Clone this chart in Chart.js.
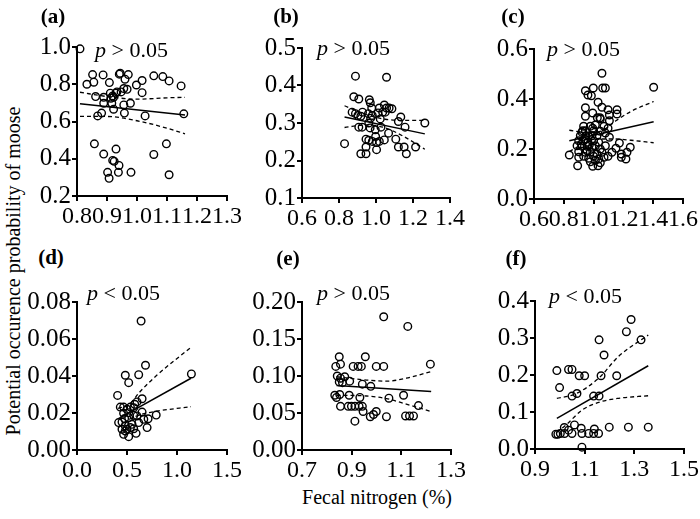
<!DOCTYPE html>
<html>
<head>
<meta charset="utf-8">
<script src="https://cdn.jsdelivr.net/npm/chart.js@4.4.0/dist/chart.umd.min.js"></script>
<style>
  body { margin: 0; width: 700px; height: 519px; background: #fff; position: relative; overflow: hidden;
         font-family: 'Liberation Serif', 'Times New Roman', serif; color: #000; }
  canvas { position: absolute; }
  .tag { position: absolute; transform: translate(-50%, -50%); font-weight: bold; font-size: 21px; }
  .pv  { position: absolute; transform: translateY(-50%); font-size: 22px; white-space: nowrap; }
  .ytitle { position: absolute; left: 13px; top: 271px; transform: translate(-50%, -50%) rotate(-90deg);
            font-size: 20px; white-space: nowrap; }
  .xtitle { position: absolute; left: 377px; top: 497px; transform: translate(-50%, -50%);
            font-size: 20px; white-space: nowrap; }
</style>
</head>
<body>
<div class="ytitle">Potential occurence probability of moose</div>
<div class="xtitle">Fecal nitrogen (%)</div>
<script>
// panel (a)
const aX = [0.81,0.833,0.852,0.856,0.862,0.887,0.889,0.889,0.869,0.882,0.908,0.911,0.913,0.916,0.922,0.922,0.919,0.93,0.933,0.941,0.944,0.947,0.956,0.96,0.967,0.956,0.958,0.971,0.978,0.998,1.017,1.017,1.027,1.056,1.086,1.107,1.147,1.156,0.858,0.889,0.93,0.919,0.924,0.94,0.902,0.907,0.938,0.98,1.056,1.098,1.107];
const aY = [0.99,0.80,0.852,0.811,0.734,0.85,0.73,0.698,0.63,0.645,0.809,0.752,0.725,0.698,0.73,0.666,0.737,0.752,0.759,0.854,0.859,0.759,0.777,0.827,0.773,0.689,0.645,0.852,0.698,0.796,0.82,0.755,0.63,0.845,0.841,0.818,0.791,0.641,0.48,0.425,0.452,0.391,0.386,0.364,0.327,0.295,0.327,0.327,0.423,0.48,0.314];
const aFitX = [0.81, 1.16], aFitY = [0.695, 0.635];
const aBandX = [0.81, 0.9, 1.0, 1.1, 1.16];
const aUpper = [0.757, 0.734, 0.72, 0.727, 0.73];
const aLower = [0.627, 0.627, 0.604, 0.564, 0.534];

// panel (b)
const bX = [0.889,1.057,0.88,0.907,0.964,0.969,0.977,1.018,1.045,1.057,1.071,1.086,0.871,0.889,0.902,0.918,0.927,0.959,0.971,0.98,1.011,1.023,1.036,1.05,1.134,1.121,1.264,1.157,0.907,0.925,0.961,0.968,0.996,1.027,0.998,1.068,0.946,0.961,0.98,1.003,1.018,1.045,1.107,0.83,0.946,1.003,1.121,1.152,1.214,0.918,0.946,1.164];
const bY = [0.425,0.422,0.37,0.364,0.362,0.354,0.34,0.34,0.348,0.34,0.34,0.338,0.329,0.325,0.32,0.318,0.329,0.325,0.313,0.32,0.327,0.311,0.329,0.329,0.316,0.304,0.3,0.289,0.289,0.289,0.3,0.287,0.282,0.289,0.264,0.273,0.257,0.254,0.251,0.248,0.251,0.255,0.257,0.245,0.236,0.229,0.236,0.236,0.236,0.218,0.218,0.218];
const bFitX = [0.83, 1.264], bFitY = [0.316, 0.271];
const bBandX = [0.83, 0.95, 1.05, 1.15, 1.264];
const bUpper = [0.346, 0.322, 0.31, 0.307, 0.307];
const bLower = [0.288, 0.295, 0.287, 0.264, 0.23];

// panel (c)
const cX = [1.056,0.945,0.998,1.061,1.079,0.962,0.985,1.403,1.03,0.945,1.056,1.097,1.157,0.994,0.945,1.025,1.043,1.106,1.157,1.106,1.012,1.07,0.994,1.097,0.927,0.945,1.045,1.079,0.911,0.949,0.989,1.023,1.106,0.9,0.933,0.962,1.0,1.034,1.173,0.889,0.922,0.956,0.989,0.9,0.956,0.978,1.056,1.123,1.15,1.186,1.224,1.246,0.837,0.9,0.933,0.967,1.0,1.034,1.07,1.097,1.186,1.217,0.978,1.012,1.045,0.893,0.994,1.03,0.922,0.94,0.967,1.012,0.971,0.918,0.945,1.045,1.023,1.045,0.978,0.933,1.079,1.0];
const cY = [0.503,0.433,0.444,0.444,0.444,0.416,0.413,0.447,0.387,0.365,0.367,0.357,0.357,0.344,0.331,0.325,0.325,0.336,0.34,0.313,0.296,0.291,0.283,0.283,0.273,0.273,0.271,0.264,0.253,0.253,0.253,0.253,0.247,0.233,0.233,0.227,0.233,0.227,0.224,0.213,0.211,0.211,0.207,0.189,0.193,0.187,0.187,0.187,0.203,0.18,0.187,0.207,0.176,0.167,0.171,0.163,0.171,0.16,0.167,0.171,0.167,0.16,0.149,0.155,0.145,0.133,0.131,0.133,0.267,0.24,0.251,0.213,0.216,0.22,0.187,0.2,0.18,0.32,0.291,0.291,0.213,0.273];
const cFitX = [0.837, 1.403], cFitY = [0.233, 0.309];
const cBandX = [0.837, 0.95, 1.05, 1.15, 1.25, 1.403];
const cUpper = [0.275, 0.266, 0.272, 0.313, 0.35, 0.39];
const cLower = [0.19, 0.225, 0.24, 0.24, 0.235, 0.225];

// panel (d)
const dX = [0.641,0.685,0.483,0.617,0.517,1.144,0.406,0.651,0.6,0.577,0.433,0.466,0.534,0.567,0.5,0.792,0.651,0.466,0.416,0.45,0.517,0.567,0.617,0.668,0.711,0.701,0.483,0.534,0.5,0.567,0.45,0.591,0.466,0.517,0.55,0.6,0.476,0.517,0.483];
const dY = [0.0697,0.0458,0.0404,0.0407,0.0364,0.0411,0.0295,0.0277,0.026,0.0247,0.0232,0.0232,0.0232,0.0229,0.022,0.0189,0.0205,0.0198,0.0148,0.0151,0.0175,0.0187,0.0148,0.0166,0.0169,0.0121,0.013,0.0121,0.0112,0.0115,0.0112,0.009,0.0085,0.0072,0.0139,0.0184,0.017,0.0202,0.0103];
const dFitX = [0.41, 1.14], dFitY = [0.0168, 0.0388];
const dBandX = [0.41, 0.52, 0.63, 0.8, 1.14];
const dUpper = [0.0225, 0.0245, 0.0315, 0.0405, 0.0555];
const dLower = [0.012, 0.0165, 0.019, 0.021, 0.0234];

// panel (e)
const eX = [1.029,1.126,0.85,0.955,0.836,0.855,0.906,0.926,0.939,0.999,1.029,1.217,0.842,0.85,0.863,0.872,0.892,0.855,0.943,0.977,0.832,0.852,0.89,0.933,0.839,1.05,1.109,0.855,0.886,0.899,0.913,0.93,0.943,0.946,0.999,0.988,0.975,1.04,1.117,1.133,1.149,1.169,0.913];
const eY = [0.18,0.167,0.126,0.126,0.113,0.116,0.113,0.113,0.113,0.113,0.113,0.116,0.1,0.092,0.091,0.099,0.093,0.097,0.089,0.086,0.074,0.075,0.074,0.071,0.071,0.07,0.074,0.059,0.059,0.059,0.059,0.059,0.059,0.052,0.052,0.048,0.045,0.045,0.046,0.046,0.046,0.06,0.039];
const eFitX = [0.839, 1.22], eFitY = [0.087, 0.079];
const eBandX = [0.839, 0.96, 1.04, 1.12, 1.22];
const eUpper = [0.099, 0.0945, 0.093, 0.097, 0.106];
const eLower = [0.074, 0.073, 0.0695, 0.062, 0.052];

// panel (f)
const fX = [1.287,1.268,1.327,1.158,1.178,0.988,1.035,1.049,1.078,1.1,1.166,1.229,0.999,1.049,1.069,1.136,1.158,0.984,0.992,1.002,1.018,1.035,1.019,1.049,1.059,1.086,1.089,1.116,1.136,1.156,1.139,1.199,1.276,1.356,1.089];
const fY = [0.35,0.317,0.295,0.295,0.254,0.212,0.215,0.215,0.198,0.198,0.198,0.198,0.166,0.143,0.15,0.143,0.143,0.04,0.04,0.042,0.058,0.051,0.042,0.042,0.065,0.056,0.042,0.042,0.042,0.042,0.054,0.059,0.059,0.059,0.005];
const fFitX = [0.988, 1.356], fFitY = [0.083, 0.225];
const fUpX = [0.988, 1.06, 1.156, 1.236, 1.356];
const fUpper = [0.137, 0.148, 0.191, 0.25, 0.308];
const fLoX = [0.988, 1.03, 1.089, 1.156, 1.236, 1.356];
const fLower = [0.045, 0.068, 0.105, 0.126, 0.137, 0.144];

const FONT = "'Liberation Serif', 'Times New Roman', serif";

function pts(xs, ys) { return xs.map((x, i) => ({ x, y: ys[i] })); }

function axisOpts(min, max, step, dec, size, fit) {
  return {
    type: 'linear', min, max,
    afterFit: fit,
    ticks: {
      stepSize: step, autoSkip: false, maxRotation: 0, minRotation: 0,
      color: '#000', padding: 1,
      font: { family: FONT, size },
      callback: v => (+v).toFixed(dec),
    },
    grid: { drawOnChartArea: false, drawTicks: true, tickLength: 5, color: '#000', lineWidth: 2 },
    border: { color: '#000', width: 2 },
  };
}

function dashed(xs, ys) {
  return {
    data: pts(xs, ys), showLine: true, pointRadius: 0, borderColor: '#000',
    borderWidth: 1.3, borderDash: [4, 3], cubicInterpolationMode: 'monotone',
  };
}

function renderPanel(p) {
  const padL = 75, padT = 22, padR = 18, padB = 42;
  const w = padL + p.w + padR, h = padT + p.h + padB;
  const cv = document.createElement('canvas');
  cv.width = w; cv.height = h;
  cv.style.left = (p.left - padL) + 'px';
  cv.style.top = (p.top - padT) + 'px';
  cv.style.width = w + 'px';
  cv.style.height = h + 'px';
  document.body.appendChild(cv);

  new Chart(cv, {
    type: 'scatter',
    data: {
      datasets: [
        { data: pts(p.xs, p.ys), pointRadius: 3.8, borderWidth: 1.4, borderColor: '#000',
          backgroundColor: 'rgba(0,0,0,0)', clip: false },
        { data: pts(p.fitX, p.fitY), showLine: true, pointRadius: 0, borderColor: '#000', borderWidth: 1.5 },
        dashed(p.upX, p.upY),
        dashed(p.loX, p.loY),
      ],
    },
    options: {
      responsive: false, animation: false,
      layout: { padding: { top: padT, right: padR, left: 0, bottom: 0 } },
      plugins: { legend: { display: false }, tooltip: { enabled: false } },
      scales: {
        x: axisOpts(p.x[0], p.x[1], p.x[2], p.x[3], 24, s => { s.height = padB; }),
        y: axisOpts(p.y[0], p.y[1], p.y[2], p.y[3], 25, s => { s.width = padL; }),
      },
    },
  });

  const tag = document.createElement('div');
  tag.className = 'tag';
  tag.textContent = p.tag;
  tag.style.left = p.tagPos[0] + 'px';
  tag.style.top = p.tagPos[1] + 'px';
  document.body.appendChild(tag);

  const pv = document.createElement('div');
  pv.className = 'pv';
  pv.innerHTML = '<i>p</i> ' + p.sig + ' 0.05';
  pv.style.left = p.pPos[0] + 'px';
  pv.style.top = p.pPos[1] + 'px';
  document.body.appendChild(pv);
}

const panels = [
  { tag: '(a)', tagPos: [53, 16], sig: '&gt;', pPos: [95, 50], left: 77, top: 47, w: 150, h: 149,
    x: [0.8, 1.3, 0.1, 1], y: [0.2, 1.0, 0.2, 1],
    xs: aX, ys: aY, fitX: aFitX, fitY: aFitY, upX: aBandX, upY: aUpper, loX: aBandX, loY: aLower },
  { tag: '(b)', tagPos: [286, 16], sig: '&gt;', pPos: [317, 48], left: 302, top: 48, w: 148, h: 150,
    x: [0.6, 1.4, 0.2, 1], y: [0.1, 0.5, 0.1, 1],
    xs: bX, ys: bY, fitX: bFitX, fitY: bFitY, upX: bBandX, upY: bUpper, loX: bBandX, loY: bLower },
  { tag: '(c)', tagPos: [513, 16], sig: '&gt;', pPos: [547, 49], left: 534, top: 49, w: 149, h: 150,
    x: [0.6, 1.6, 0.2, 1], y: [0.0, 0.6, 0.2, 1],
    xs: cX, ys: cY, fitX: cFitX, fitY: cFitY, upX: cBandX, upY: cUpper, loX: cBandX, loY: cLower },
  { tag: '(d)', tagPos: [51, 257], sig: '&lt;', pPos: [87, 293], left: 77, top: 302, w: 150, h: 148,
    x: [0.0, 1.5, 0.5, 1], y: [0.0, 0.08, 0.02, 2],
    xs: dX, ys: dY, fitX: dFitX, fitY: dFitY, upX: dBandX, upY: dUpper, loX: dBandX, loY: dLower },
  { tag: '(e)', tagPos: [288, 258], sig: '&gt;', pPos: [317, 293], left: 302, top: 302, w: 149, h: 148,
    x: [0.7, 1.3, 0.2, 1], y: [0.0, 0.2, 0.05, 2],
    xs: eX, ys: eY, fitX: eFitX, fitY: eFitY, upX: eBandX, upY: eUpper, loX: eBandX, loY: eLower },
  { tag: '(f)', tagPos: [516, 258], sig: '&lt;', pPos: [549, 296], left: 535, top: 301, w: 149, h: 148,
    x: [0.9, 1.5, 0.2, 1], y: [0.0, 0.4, 0.1, 1],
    xs: fX, ys: fY, fitX: fFitX, fitY: fFitY, upX: fUpX, upY: fUpper, loX: fLoX, loY: fLower },
];

panels.forEach(renderPanel);
</script>
</body>
</html>
